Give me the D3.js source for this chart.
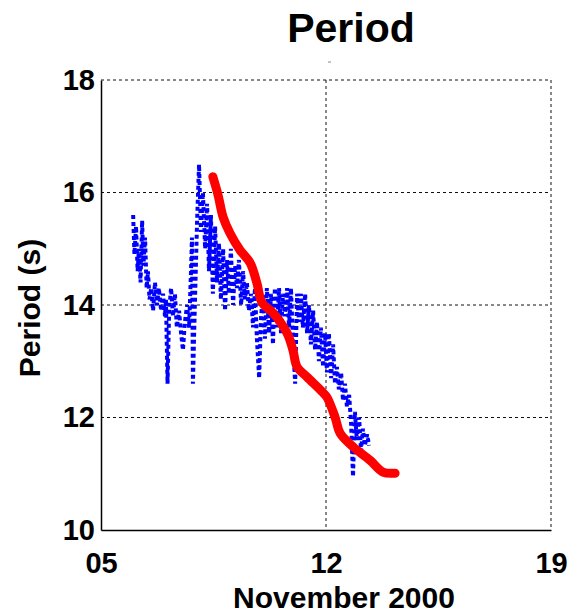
<!DOCTYPE html>
<html><head><meta charset="utf-8">
<script src="https://cdn.jsdelivr.net/npm/d3@7"></script>
<style>body{margin:0;background:#fff}svg{display:block}text{font-family:"Liberation Sans",Arial,sans-serif;font-weight:bold;fill:#000}</style>
</head><body><svg id="c" width="567" height="614"></svg>
<script>
// Day of November 2000 and period (s)
const redDays = [8.48,8.64,8.80,9.01,9.32,9.64,9.85,10.01,10.35,10.79,10.97,11.10,11.41,11.91,12.03,12.28,12.44,12.84,13.37,13.77,14.15];
const redVals = [16.28,15.96,15.56,15.28,14.98,14.75,14.39,14.04,13.86,13.50,13.20,12.90,12.72,12.44,12.36,12.01,11.72,11.48,11.24,11.03,11.01];

const blueDays = [6.00,6.04,6.09,6.14,6.18,6.23,6.28,6.32,6.37,6.42,6.46,6.51,6.56,6.62,6.68,6.74,6.80,6.87,6.93,6.99,7.02,7.07,7.12,7.18,7.24,7.30,7.36,7.43,7.49,7.55,7.61,7.68,7.74,7.80,7.83,7.86,7.92,7.99,8.05,8.11,8.17,8.24,8.30,8.36,8.42,8.48,8.55,8.61,8.67,8.73,8.80,8.86,8.92,8.98,9.04,9.11,9.17,9.23,9.29,9.36,9.42,9.48,9.54,9.60,9.67,9.73,9.79,9.85,9.92,9.98,10.04,10.10,10.16,10.23,10.29,10.35,10.41,10.48,10.54,10.60,10.66,10.72,10.79,10.85,10.91,10.97,11.04,11.10,11.16,11.22,11.28,11.35,11.41,11.47,11.53,11.60,11.66,11.72,11.78,11.84,11.91,11.97,12.03,12.09,12.16,12.22,12.28,12.34,12.40,12.47,12.53,12.59,12.65,12.72,12.78,12.84,12.90,12.96,13.03,13.09,13.15,13.21,13.28,13.34];
const blueVals = [15.6,14.9,15.4,14.6,15.0,14.4,15.5,14.7,15.2,14.3,14.6,14.1,14.3,13.9,14.4,14.0,14.3,13.9,14.2,13.8,14.1,12.6,13.9,14.3,13.8,14.2,13.6,13.9,13.5,13.2,13.7,14.0,13.6,14.6,15.2,12.6,14.0,15.5,16.5,15.3,16.0,15.0,15.8,14.6,15.6,14.2,15.4,14.4,15.1,14.1,15.0,13.9,14.8,14.2,15.0,14.0,14.7,14.3,14.8,14.0,14.6,14.1,14.4,13.9,14.2,13.6,14.3,13.4,12.7,13.8,14.2,13.4,14.3,13.5,14.2,13.3,14.3,13.6,14.3,13.5,14.2,13.8,14.3,13.6,14.3,13.4,12.6,14.2,13.7,14.2,13.6,14.2,13.5,14.0,13.3,13.9,13.2,13.7,13.0,13.6,12.9,13.5,12.8,13.5,12.7,13.3,12.6,12.9,12.5,12.8,12.3,12.6,12.2,12.4,11.9,10.95,12.1,11.6,12.0,11.4,11.8,11.5,11.7,11.5];

const xTicks = [5,12,19];
const xTickLabels = ["05","12","19"];
const yTicks = [10,12,14,16,18];

const svg = d3.select("#c");
const L=101,R=551,T=80,B=530;
const x = d3.scaleLinear().domain([5,19]).range([L,R]);
const y = d3.scaleLinear().domain([10,18]).range([B,T]);

// grid
const grid = svg.append("g").attr("stroke","#111").attr("stroke-width",1).attr("stroke-dasharray","3,3");
xTicks.slice(1).forEach(t=>grid.append("line").attr("x1",x(t)).attr("x2",x(t)).attr("y1",T).attr("y2",B));
yTicks.slice(1).forEach(t=>grid.append("line").attr("x1",L).attr("x2",R).attr("y1",y(t)).attr("y2",y(t)));

// axes
const xAxis = d3.axisBottom(x).tickValues(xTicks).tickFormat((d,i)=>xTickLabels[i]).tickSize(0).tickPadding(30);
const gx = svg.append("g").attr("transform",`translate(0,${B})`).call(xAxis);
gx.select(".domain").attr("stroke","#000").attr("stroke-width",1.5);
gx.selectAll("text").style("font-size","29px").attr("font-family",null).attr("dy","0.45em");
const yAxis = d3.axisLeft(y).tickValues(yTicks).tickSize(0).tickPadding(6);
const gy = svg.append("g").attr("transform",`translate(${L},0)`).call(yAxis);
gy.select(".domain").attr("stroke","#000").attr("stroke-width",1.5);
gy.selectAll("text").style("font-size","29px").attr("font-family",null);

// data lines
const line = d3.line().x(d=>x(d[0])).y(d=>y(d[1]));
svg.append("path").datum(blueDays.map((d,i)=>[d,blueVals[i]]))
  .attr("d",line).attr("fill","none").attr("stroke","#0000ff").attr("stroke-width",4).attr("stroke-dasharray","4,3");
const smooth = d3.line().x(d=>x(d[0])).y(d=>y(d[1])).curve(d3.curveCatmullRom);
svg.append("path").datum(redDays.map((d,i)=>[d,redVals[i]]))
  .attr("d",smooth).attr("fill","none").attr("stroke","#ff0000").attr("stroke-width",9).attr("stroke-linecap","round").attr("stroke-linejoin","round");

// tiny mark above plot
svg.append("line").attr("x1",x(12)+2).attr("x2",x(12)+5).attr("y1",62).attr("y2",62).attr("stroke","#888").attr("stroke-width",1);

// labels
svg.append("text").attr("x",351).attr("y",42).attr("text-anchor","middle").style("font-size","41px").text("Period");
svg.append("text").attr("x",344).attr("y",608).attr("text-anchor","middle").style("font-size","30px").text("November 2000");
svg.append("text").attr("transform","translate(40,308) rotate(-90)").attr("text-anchor","middle").style("font-size","30px").text("Period (s)");
</script></body></html>
